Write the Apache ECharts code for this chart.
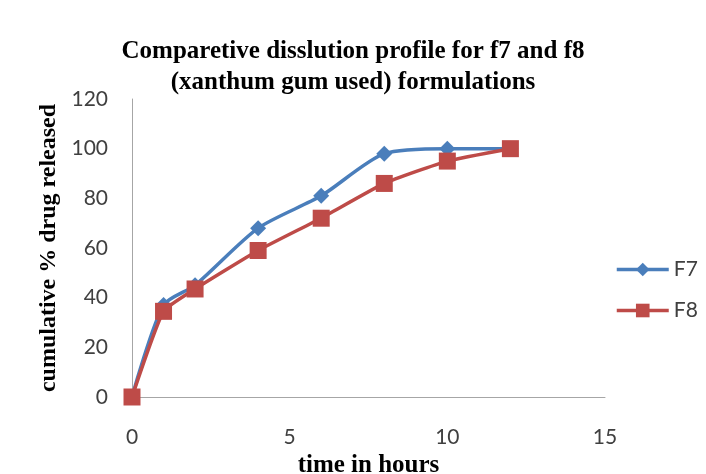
<!DOCTYPE html>
<html>
<head>
<meta charset="utf-8">
<script src="https://cdn.jsdelivr.net/npm/echarts@6/dist/echarts.min.js"></script>
<style>
  html, body { margin: 0; padding: 0; background: #ffffff; }
  #chart { width: 706px; height: 474px; }
</style>
</head>
<body>
<div id="chart"></div>
<script>
// Sampling times (hours) and cumulative % drug released
const hours = [0, 1, 2, 4, 6, 8, 10, 12];
const f7Values = [0, 37, 45, 68, 81, 98, 100, 100];
const f8Values = [0, 34.5, 43.5, 59, 72, 86, 95, 100];
const seriesNames = ['F7', 'F8'];
const titleLines = ['Comparetive disslution profile for f7 and f8', '(xanthum gum used) formulations'];

const pairs = (xs, ys) => xs.map((x, i) => [x, ys[i]]);

const chart = echarts.init(document.getElementById('chart'));
const serif = '"Liberation Serif", "Times New Roman", serif';
const sans = 'Lato, "Liberation Sans", sans-serif';

chart.setOption({
  animation: false,
  backgroundColor: '#ffffff',
  title: {
    text: titleLines.join('\n'),
    left: 'center',
    top: 31,
    textStyle: {
      fontFamily: serif, fontWeight: 'bold', fontSize: 25,
      color: '#000000', lineHeight: 31
    }
  },
  grid: { left: 132, right: 101, top: 99, bottom: 77, outerBoundsMode: 'none', containLabel: false },
  legend: {
    orient: 'vertical',
    left: 610,
    top: 254,
    itemGap: 20,
    itemWidth: 52,
    itemHeight: 17,
    lineStyle: { width: 3.5 },
    textStyle: { fontFamily: sans, fontSize: 21, color: '#404040' },
    data: seriesNames
  },
  xAxis: {
    type: 'value',
    min: 0, max: 15, interval: 5,
    name: 'time in hours',
    nameLocation: 'middle',
    nameGap: 53,
    nameTextStyle: { fontFamily: serif, fontWeight: 'bold', fontSize: 25, color: '#000000' },
    axisLine: { show: true, onZero: false, lineStyle: { color: '#a6a6a6', width: 1 } },
    axisTick: { show: false },
    splitLine: { show: false },
    axisLabel: { fontFamily: sans, fontSize: 21, color: '#404040', margin: 30 }
  },
  yAxis: {
    type: 'value',
    min: 0, max: 120, interval: 20,
    name: 'cumulative % drug released',
    nameLocation: 'middle',
    nameGap: 68,
    nameRotate: 90,
    nameTextStyle: { fontFamily: serif, fontWeight: 'bold', fontSize: 24, color: '#000000' },
    axisLine: { show: true, lineStyle: { color: '#a6a6a6', width: 1 } },
    axisTick: { show: false },
    splitLine: { show: false },
    axisLabel: { fontFamily: sans, fontSize: 21, color: '#404040', margin: 24 }
  },
  series: [
    {
      name: seriesNames[0],
      type: 'line',
      data: pairs(hours, f7Values),
      smooth: 0.25,
      symbol: 'diamond',
      symbolSize: 16,
      lineStyle: { color: '#4a7ebb', width: 3.5 },
      itemStyle: { color: '#4a7ebb' },
      z: 2
    },
    {
      name: seriesNames[1],
      type: 'line',
      data: pairs(hours, f8Values),
      smooth: 0.15,
      symbol: 'rect',
      symbolSize: 17,
      lineStyle: { color: '#be4b48', width: 3.5 },
      itemStyle: { color: '#be4b48' },
      z: 3
    }
  ]
});
</script>
</body>
</html>
